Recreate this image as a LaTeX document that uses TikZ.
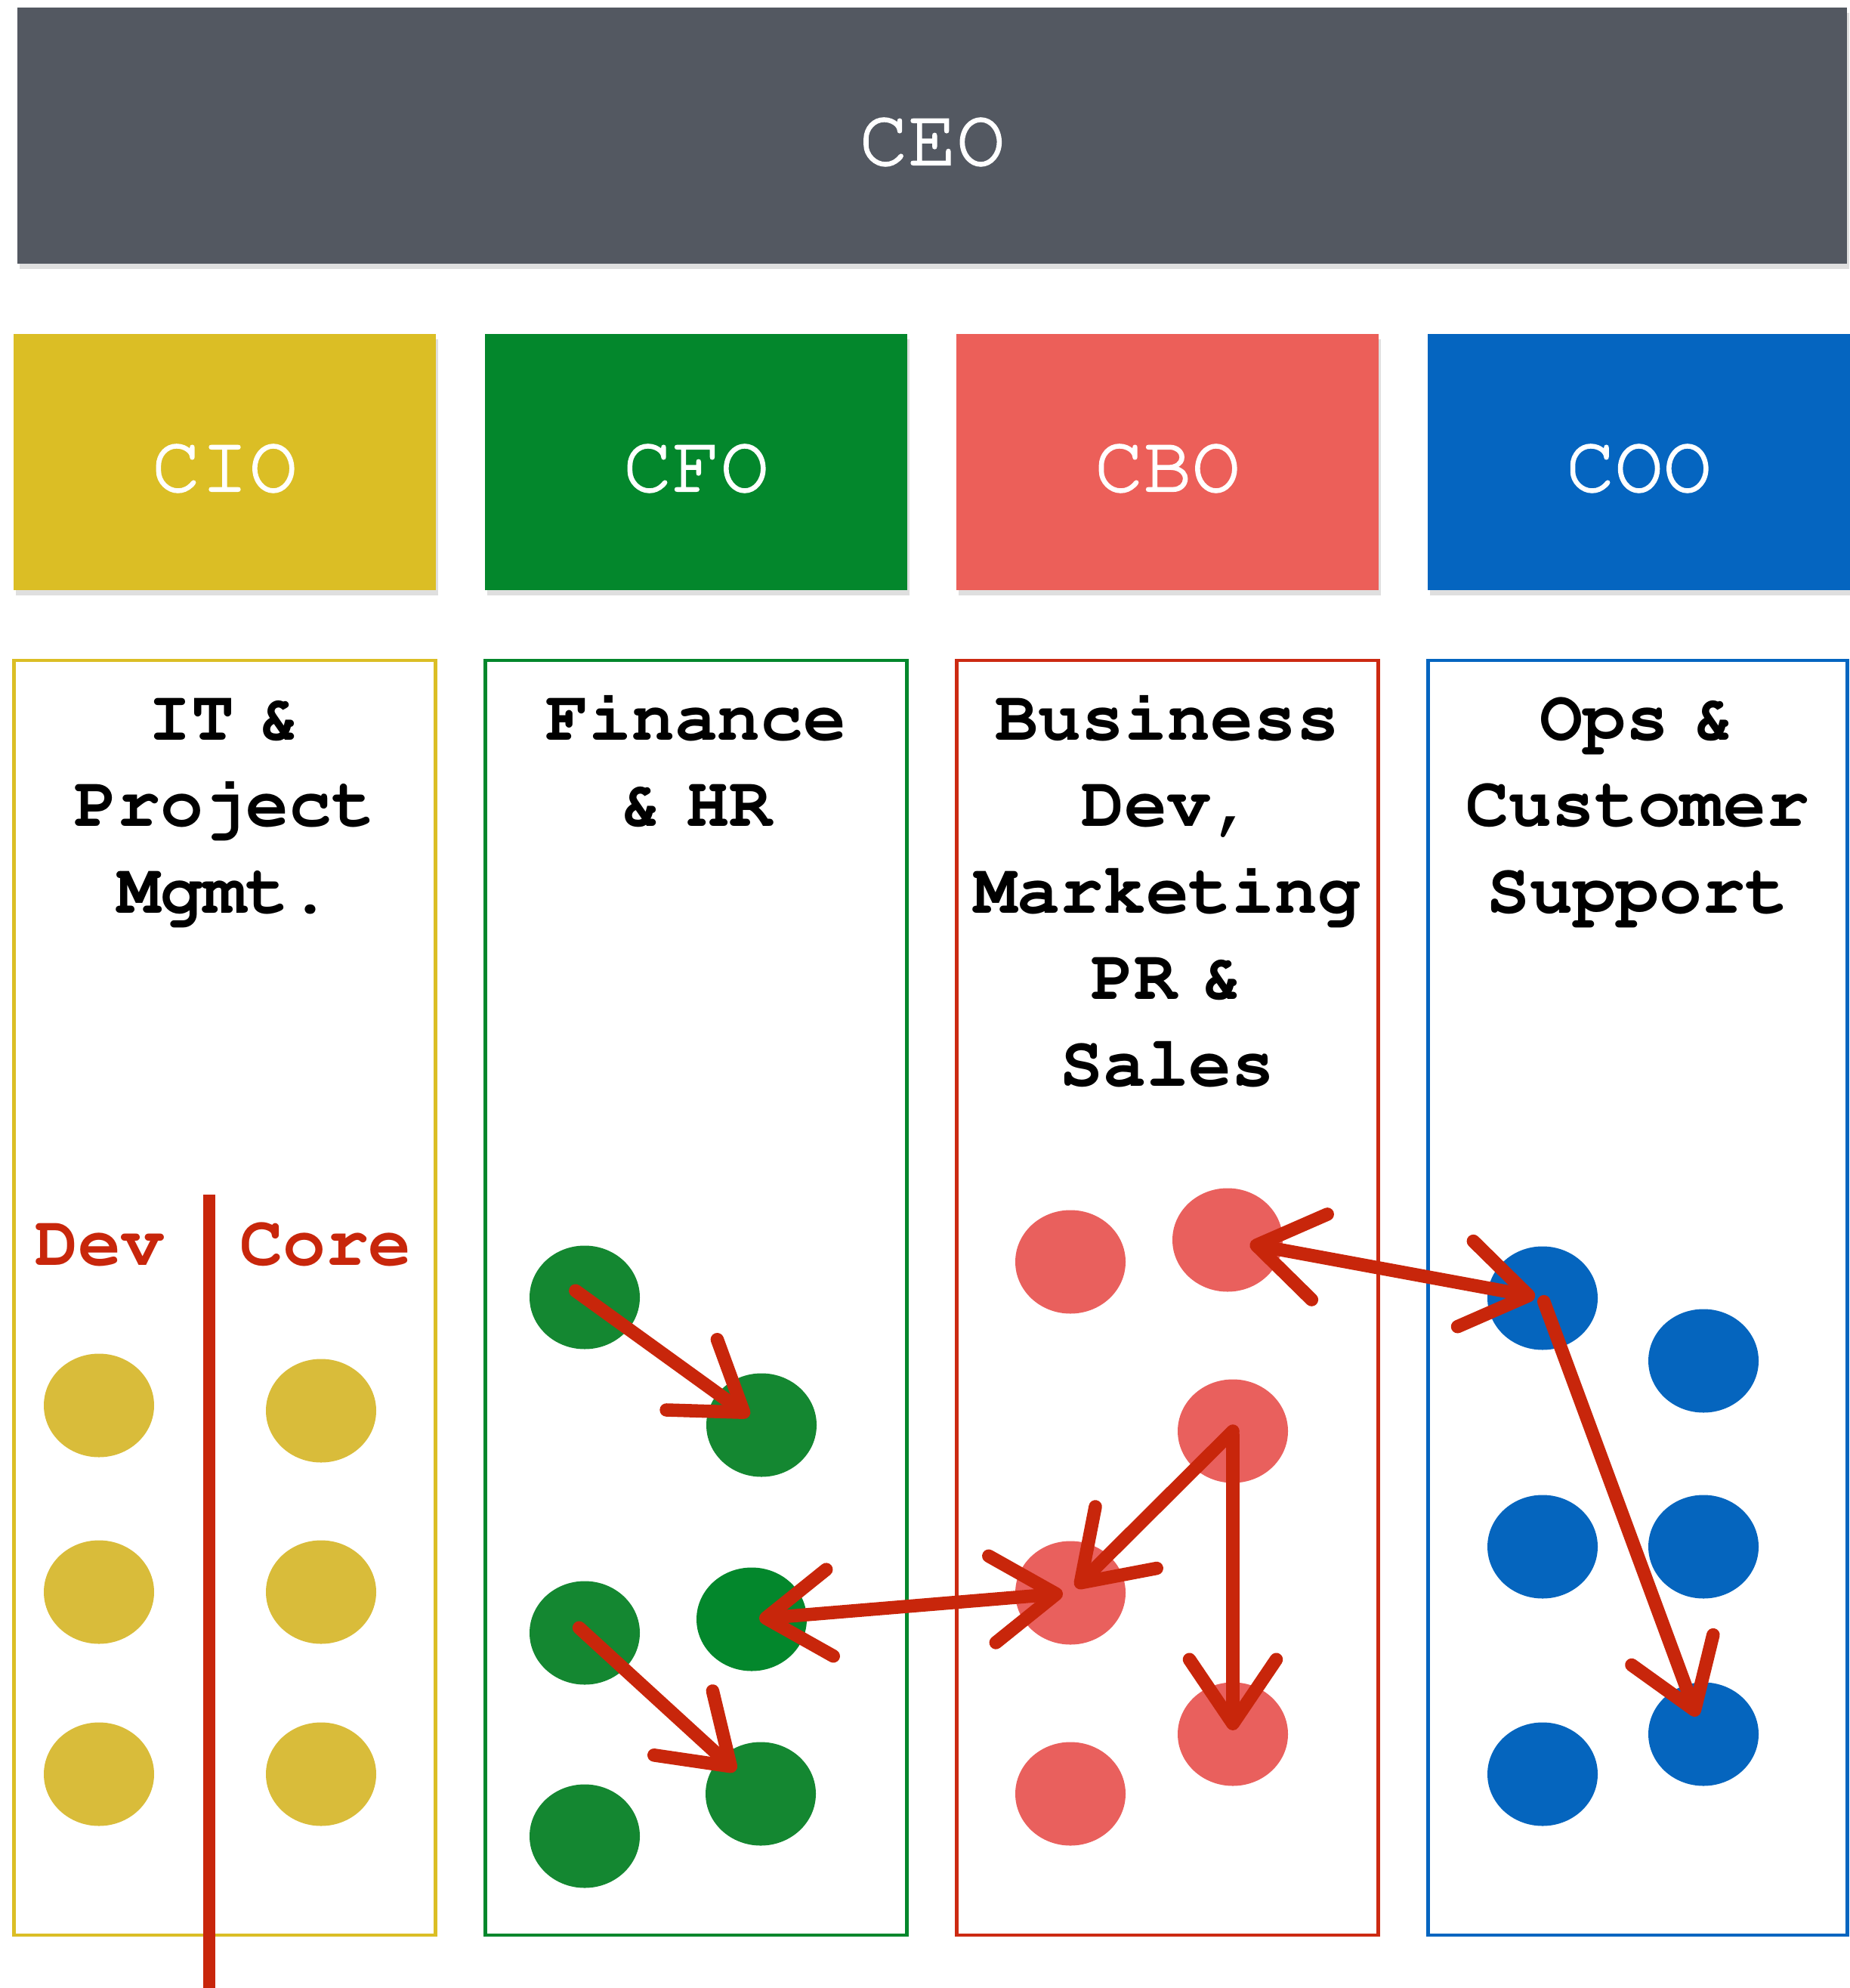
\documentclass[tikz,border=0pt]{standalone}
\usepackage[T1]{fontenc}
\usepackage{courier}
\renewcommand{\familydefault}{\ttdefault}
\usepackage{xcolor}
\usepackage{tikz}
\usetikzlibrary{shapes,arrows.meta,positioning,calc,shadows}

\definecolor{ceogray}{HTML}{535861}
\definecolor{cioyellow}{HTML}{DBBE25}
\definecolor{cfogreen}{HTML}{03872C}
\definecolor{cbored}{HTML}{EC5F59}
\definecolor{cbodark}{HTML}{CC2A12}
\definecolor{cooblue}{HTML}{0565C0}
\definecolor{dotyellow}{HTML}{D9BC3A}
\definecolor{dotgreen}{HTML}{148731}
\definecolor{dotred}{HTML}{E9605D}
\definecolor{dotblue}{HTML}{0565BE}
\definecolor{chalkred}{HTML}{C8260B}

% slightly heavier strokes for the white titles
\newcommand{\heavier}[1]{\special{pdf:literal direct q 2 Tr 0.6 w}#1\special{pdf:literal direct Q}}

\begin{document}
\begin{tikzpicture}[
    chief/.style={rectangle, fill=#1, text=white, minimum width=5.59cm, minimum height=3.39cm, inner sep=0pt, outer sep=0pt, text height=0.77cm, text depth=0cm, font=\fontsize{30.5}{36}\selectfont, drop shadow={shadow xshift=0.03cm, shadow yshift=-0.07cm, opacity=0.25}},
    dept/.style={rectangle, draw=#1, line width=1.4pt, minimum width=5.58cm, minimum height=16.87cm, inner sep=0pt, outer sep=0pt},
    dtitle/.style={text width=5.5cm, align=center, anchor=base, inner sep=0pt, font=\fontsize{27}{32.6}\selectfont\bfseries},
    subteam/.style={anchor=base, inner sep=0pt, text=chalkred, font=\fontsize{27}{32}\selectfont\bfseries},
    member/.style={ellipse, fill=#1, minimum width=1.46cm, minimum height=1.37cm, inner sep=0pt},
    chalk/.style={draw=chalkred, line width=5pt, line cap=round, -{Straight Barb[length=8.5mm, width=11.5mm, round]}},
    chalkboth/.style={draw=chalkred, line width=5pt, line cap=round, {Straight Barb[length=8.5mm, width=11.5mm, round]}-{Straight Barb[length=8.5mm, width=11.5mm, round]}}
]
\useasboundingbox (0,0) rectangle (24.48,-26.31);

% Top
\node[chief=ceogray, minimum width=24.22cm, minimum height=3.39cm] (ceo) at (12.34,-1.795) {\heavier{CEO}};

% Chiefs
\node[chief=cioyellow] (cio) at (2.975,-6.115) {\heavier{CIO}};
\node[chief=cfogreen, right=0.65cm of cio] (cfo) {\heavier{CFO}};
\node[chief=cbored, right=0.65cm of cfo] (cbo) {\heavier{CBO}};
\node[chief=cooblue, right=0.65cm of cbo] (coo) {\heavier{COO}};

% Departments
\node[dept=cioyellow, below=0.93cm of cio] (itdept) {};
\node[dept=cfogreen, below=0.93cm of cfo] (findept) {};
\node[dept=cbodark, below=0.93cm of cbo] (bizdept) {};
\node[dept=cooblue, below=0.93cm of coo, minimum width=5.55cm, xshift=-0.015cm] (opsdept) {};

\node[dtitle] (ittitle) at ($(itdept.north)+(0,-1.05)$) {IT \&\\Project\\Mgmt.};
\node[dtitle] (fintitle) at ($(findept.north)+(0,-1.05)$) {Finance\\\& HR};
\node[dtitle] (biztitle) at ($(bizdept.north)+(0,-1.05)$) {Business\\Dev,\\Marketing\\PR \&\\Sales};
\node[dtitle] (opstitle) at ($(opsdept.north)+(0,-1.05)$) {Ops \&\\Customer\\Support};

% IT teams
\node[subteam] (devlbl) at (1.32,-16.74) {Dev};
\node[subteam] (corelbl) at (4.31,-16.74) {Core};
\coordinate (divtop) at (2.77,-15.81);
\coordinate (divbot) at (2.77,-26.6);
\draw[chalkred, line width=4.5pt] (divtop) -- (divbot);

% People
\node[member=dotyellow] (y1) at (1.31,-18.60) {};
\node[member=dotyellow] (y2) at (4.25,-18.67) {};
\node[member=dotyellow] (y3) at (1.31,-21.07) {};
\node[member=dotyellow] (y4) at (4.25,-21.07) {};
\node[member=dotyellow] (y5) at (1.31,-23.48) {};
\node[member=dotyellow] (y6) at (4.25,-23.48) {};

\node[member=dotgreen] (g1) at (7.74,-17.17) {};
\node[member=dotgreen] (g2) at (10.08,-18.86) {};
\node[member=cfogreen] (g3) at (9.95,-21.43) {};
\node[member=dotgreen] (g4) at (7.74,-21.61) {};
\node[member=dotgreen] (g5) at (10.07,-23.74) {};
\node[member=dotgreen] (g6) at (7.74,-24.30) {};

\node[member=dotred] (r1) at (14.17,-16.70) {};
\node[member=dotred] (r2) at (16.25,-16.41) {};
\node[member=dotred] (r3) at (16.32,-18.94) {};
\node[member=dotred] (r4) at (14.17,-21.08) {};
\node[member=dotred] (r5) at (16.32,-22.95) {};
\node[member=dotred] (r6) at (14.17,-23.74) {};

\node[member=dotblue] (b1) at (20.42,-17.18) {};
\node[member=dotblue] (b2) at (22.55,-18.01) {};
\node[member=dotblue] (b3) at (20.42,-20.47) {};
\node[member=dotblue] (b4) at (22.55,-20.47) {};
\node[member=dotblue] (b5) at (20.42,-23.48) {};
\node[member=dotblue] (b6) at (22.55,-22.95) {};

% Connections
\draw[chalk, shorten <=-0.15cm, shorten >=0.2cm] (g1.center) -- (g2.center);
\draw[chalk, shorten <=-0.1cm, shorten >=0.45cm] (g4.center) -- (g5.center);
\draw[chalkboth, shorten <=0.1cm, shorten >=0.1cm] (g3.center) -- (r4.center);
\draw[chalk, shorten >=0.1cm] (r3.center) -- (r4.center);
\draw[chalk, shorten <=0.05cm, shorten >=0.05cm] (r3.center) -- (r5.center);
\draw[chalkboth, shorten <=0.3cm, shorten >=0.1cm] (r2.center) -- (b1.center);
\draw[chalk, shorten <=0.05cm, shorten >=0.25cm] (b1.center) -- (b6.center);

\end{tikzpicture}
\end{document}
